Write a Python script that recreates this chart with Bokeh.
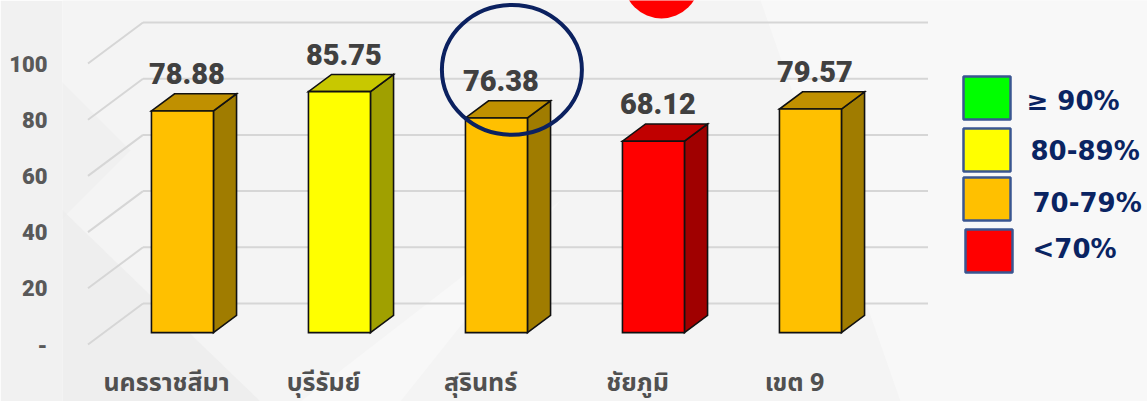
from bokeh.plotting import figure
from bokeh.models import Range1d, FixedTicker
from bokeh.core.properties import value
from bokeh.embed import file_html
from bokeh.resources import INLINE

# ---------------- data ----------------
categories = ["นครราชสีมา", "บุรีรัมย์", "สุรินทร์", "ชัยภูมิ", "เขต 9"]
scores = [78.88, 85.75, 76.38, 68.12, 79.57]
y_ticks = [0, 20, 40, 60, 80, 100]
y_tick_labels = ["-", "20", "40", "60", "80", "100"]
legend_labels = ["≥ 90%", "80-89%", "70-79%", "<70%"]
legend_thresholds = [90, 80, 70, 0]
face_colors = ["#00FF00", "#FFFF00", "#FFC000", "#FF0000"]
top_colors = ["#00C000", "#C8C800", "#C09000", "#C00000"]
side_colors = ["#00A000", "#A0A000", "#A07C00", "#A00000"]
highlight_index = 2

# ---------------- layout constants (pixels of the picture) ----------------
W, H = 1147, 401
ML = 62
X0, PXC = 166.0, 157.0      # px of category 0, px per category
Y0, PYV = 344.0, 2.81       # px of value 0, px per value unit


def ux(px):
    return (px - X0) / PXC


def uy(py):
    return (Y0 - py) / PYV


DX, DY = 55 / PXC, 41 / PYV    # depth of the chart walls
F1, F2 = 0.29, 0.71            # bar front / back depth fraction
HW = 31 / PXC                  # bar half width

p = figure(width=W, height=H, output_backend="svg", toolbar_location=None,
           x_axis_location=None,
           x_range=Range1d(ux(ML), ux(W)), y_range=Range1d(uy(H), uy(0)),
           min_border=0, min_border_left=ML, min_border_right=0,
           min_border_top=0, min_border_bottom=0)
p.background_fill_color = "#f4f4f4"
p.border_fill_color = "#f1f1f1"
p.outline_line_color = None
p.xgrid.visible = False
p.ygrid.visible = False

# faint background shapes
p.patch([ux(0), ux(260), ux(0)], [uy(150), uy(401), uy(401)],
        fill_color="#e6e6e6", fill_alpha=0.45, line_color=None)
p.patch([ux(0), ux(130), ux(0)], [uy(20), uy(150), uy(280)],
        fill_color="#ececec", fill_alpha=0.5, line_color=None)
p.patch([ux(300), ux(560), ux(400)], [uy(401), uy(200), uy(401)],
        fill_color="#ffffff", fill_alpha=0.35, line_color=None)
p.patch([ux(760), ux(1147), ux(1147), ux(900)], [uy(0), uy(0), uy(401), uy(401)],
        fill_color="#fafafa", fill_alpha=0.6, line_color=None)

# ---------------- walls (grid) ----------------
x_left, x_right = -0.5, len(categories) - 0.5
gx, gy = [], []
for t in y_ticks:
    gx.append([x_left + DX, x_right + DX])
    gy.append([t + DY, t + DY])
    gx.append([x_left, x_left + DX])
    gy.append([t, t + DY])
p.multi_line(gx, gy, line_color="#d6d6d6", line_width=2)

# ---------------- 3D bars ----------------
def color_index(v):
    for k, t in enumerate(legend_thresholds):
        if v >= t:
            return k
    return len(legend_thresholds) - 1


fx, fy, fc = [], [], []
tx, ty, tc = [], [], []
sx, sy, sc = [], [], []
ox1, oy1 = F1 * DX, F1 * DY
ox2, oy2 = F2 * DX, F2 * DY
for i, v in enumerate(scores):
    k = color_index(v)
    l, r = i - HW, i + HW
    fx.append([l + ox1, r + ox1, r + ox1, l + ox1])
    fy.append([oy1, oy1, v + oy1, v + oy1])
    fc.append(face_colors[k])
    tx.append([l + ox1, r + ox1, r + ox2, l + ox2])
    ty.append([v + oy1, v + oy1, v + oy2, v + oy2])
    tc.append(top_colors[k])
    sx.append([r + ox1, r + ox2, r + ox2, r + ox1])
    sy.append([oy1, oy2, v + oy2, v + oy1])
    sc.append(side_colors[k])

for xs, ys, cs in ((sx, sy, sc), (tx, ty, tc), (fx, fy, fc)):
    p.patches(xs, ys, fill_color=cs, line_color="#111111", line_width=1.6,
              line_join="miter")

# value labels (centre of text ~20 px above the back top edge)
p.text(x=[i + 0.13 for i in range(len(scores))],
       y=[v + oy2 + 20 / PYV for v in scores],
       text=[f"{v:.2f}" for v in scores],
       text_font=value("Roboto Black, Roboto"), text_font_size="29px",
       text_font_style="bold",
       text_color="#404040", text_align="center", text_baseline="middle")

# category labels
p.text(x=list(range(len(categories))), y=[uy(382)] * len(categories),
       text=categories,
       text_font=value("Noto Sans Thai, sans-serif"), text_font_size="25px",
       text_font_style="bold", text_color="#505050",
       text_align="center", text_baseline="middle")

# highlight ellipse around one label
hv = scores[highlight_index]
p.ellipse(x=[highlight_index + 0.2], y=[hv + oy2 + 11.0],
          width=[140 / PXC], height=[130 / PYV],
          fill_color=None, line_color="#0b2160", line_width=4)

# red dot at top
p.ellipse(x=[ux(661)], y=[uy(-20)], width=[76 / PXC], height=[76 / PYV],
          fill_color="#FF0000", line_color=None)

# ---------------- legend ----------------
sq_cy = [97.5, 149.5, 198.5, 250.5]
sq_cx = [986.5, 986.5, 986.5, 988.5]
txt_x = [1026, 1030, 1032, 1032]
txt_y = [100, 150, 202, 248]
p.rect(x=[ux(c) for c in sq_cx], y=[uy(c) for c in sq_cy],
       width=47 / PXC, height=43 / PYV,
       fill_color=face_colors, line_color="#3a5691", line_width=2.5)
p.text(x=[ux(c) for c in txt_x], y=[uy(c) for c in txt_y], text=legend_labels,
       text_font=value("DejaVu Sans"), text_font_size="26px",
       text_font_style="bold",
       text_color="#0a2462", text_align="left", text_baseline="middle")

# ---------------- y axis ----------------
p.yaxis.ticker = FixedTicker(ticks=y_ticks)
p.yaxis.major_label_overrides = {t: s for t, s in zip(y_ticks, y_tick_labels)}
p.yaxis.axis_line_color = None
p.yaxis.major_tick_line_color = None
p.yaxis.minor_tick_line_color = None
p.yaxis.major_label_text_font = "Roboto Black, Roboto"
p.yaxis.major_label_text_font_style = "bold"
p.yaxis.major_label_text_font_size = "22px"
p.yaxis.major_label_text_color = "#595959"
p.yaxis.major_label_standoff = 9

open("out.html", "w").write(file_html(p, INLINE))
